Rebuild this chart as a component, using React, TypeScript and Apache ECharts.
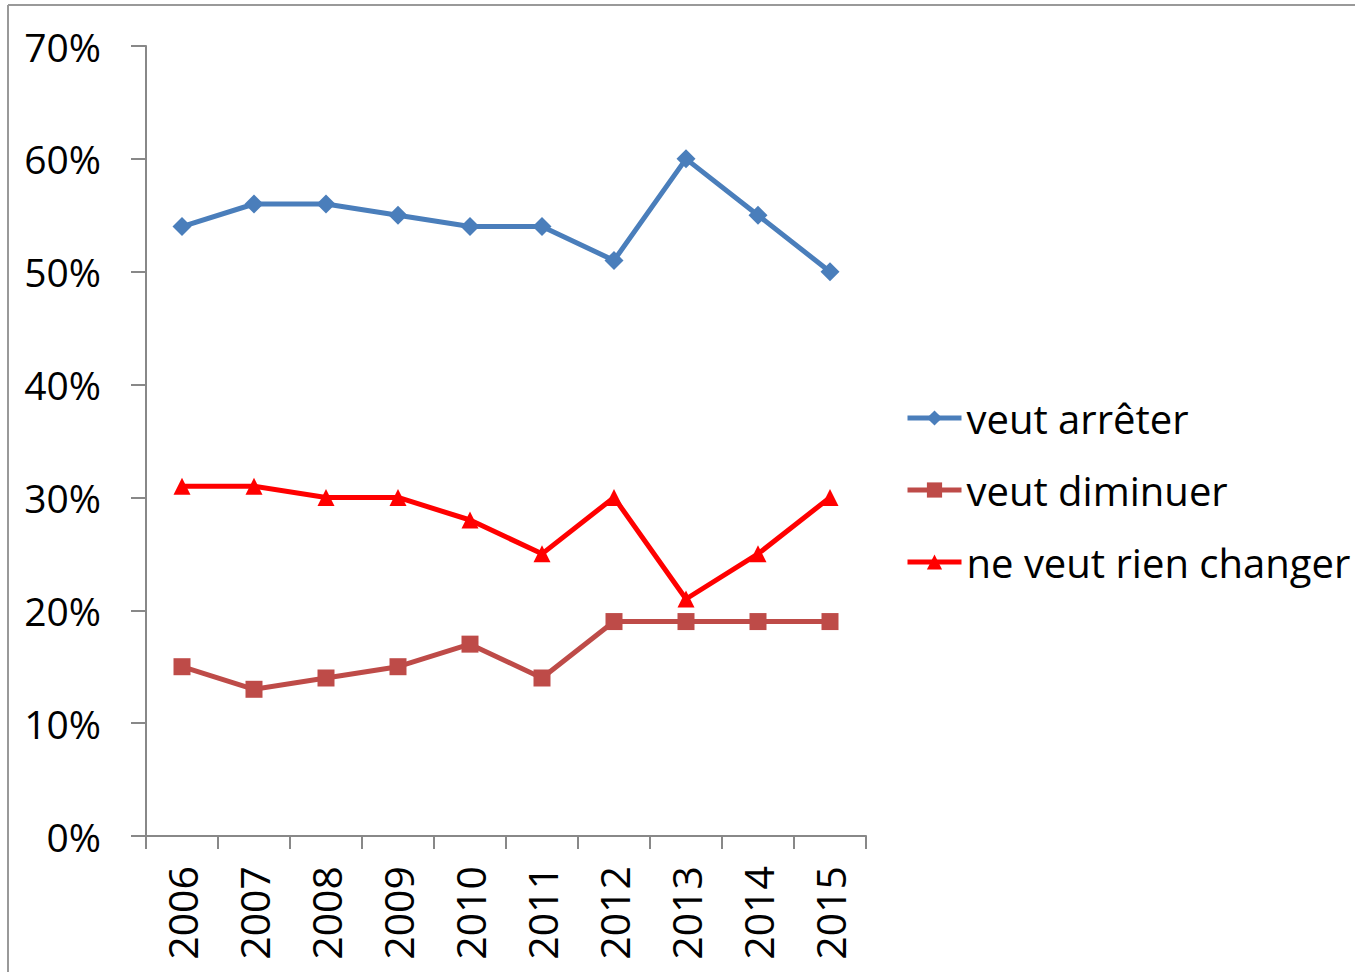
import React, { useEffect, useRef } from "react";
import * as echarts from "echarts";

const years = ["2006", "2007", "2008", "2009", "2010", "2011", "2012", "2013", "2014", "2015"];
const veutArreter = [54, 56, 56, 55, 54, 54, 51, 60, 55, 50];
const veutDiminuer = [15, 13, 14, 15, 17, 14, 19, 19, 19, 19];
const rienChanger = [31, 31, 30, 30, 28, 25, 30, 21, 25, 30];
const seriesNames = ["veut arrêter", "veut diminuer", "ne veut rien changer"];

const FONT = "'Open Sans', 'Noto Sans', sans-serif";

export default function App() {
  const ref = useRef<HTMLDivElement>(null);
  useEffect(() => {
    if (!ref.current) return;
    const chart = echarts.init(ref.current, undefined, { renderer: "svg" });
    const mk = (name: string, data: number[], color: string, symbol: string, size: number) => ({
      name,
      type: "line",
      data,
      symbol,
      symbolSize: size,
      lineStyle: { color, width: 5 },
      itemStyle: { color },
      emphasis: { disabled: true },
    });
    chart.setOption({
      animation: false,
      backgroundColor: "#ffffff",
      textStyle: { fontFamily: FONT },
      grid: { left: 146, top: 46, right: 489, bottom: 136, containLabel: false },
      xAxis: {
        type: "category",
        data: years,
        boundaryGap: true,
        axisLine: { lineStyle: { color: "#888888", width: 2 } },
        axisTick: { show: true, length: 13, lineStyle: { color: "#888888", width: 2 } },
        axisLabel: { rotate: 90, margin: 30, fontSize: 41, color: "#000000", fontFamily: FONT },
        splitLine: { show: false },
      },
      yAxis: {
        type: "value",
        min: 0,
        max: 70,
        interval: 10,
        axisLine: { show: true, lineStyle: { color: "#888888", width: 2 } },
        axisTick: { show: true, length: 15, lineStyle: { color: "#888888", width: 2 } },
        axisLabel: { margin: 45, fontSize: 39, color: "#000000", fontFamily: FONT, formatter: "{value}%" },
        splitLine: { show: false },
      },
      legend: {
        orient: "vertical",
        left: 905,
        top: 397,
        padding: 0,
        itemWidth: 54,
        itemHeight: 19,
        itemGap: 30,
        data: seriesNames,
        lineStyle: { width: 5 },
        textStyle: { fontSize: 40, color: "#000000", fontFamily: FONT, lineHeight: 42 },
      },
      graphic: [
        { type: "line", shape: { x1: 8, y1: 5, x2: 1355, y2: 5 }, style: { stroke: "#999999", lineWidth: 2 } },
        { type: "line", shape: { x1: 8, y1: 5, x2: 8, y2: 972 }, style: { stroke: "#999999", lineWidth: 2 } },
      ],
      series: [
        mk(seriesNames[0], veutArreter, "#4A7EBB", "diamond", 19),
        mk(seriesNames[1], veutDiminuer, "#BE4B48", "rect", 17),
        mk(seriesNames[2], rienChanger, "#FF0000", "triangle", 17),
      ],
    });
    return () => chart.dispose();
  }, []);
  return (
    <div
      ref={ref}
      style={{ position: "absolute", left: 0, top: 0, width: 1355, height: 972, background: "#fff" }}
    />
  );
}
